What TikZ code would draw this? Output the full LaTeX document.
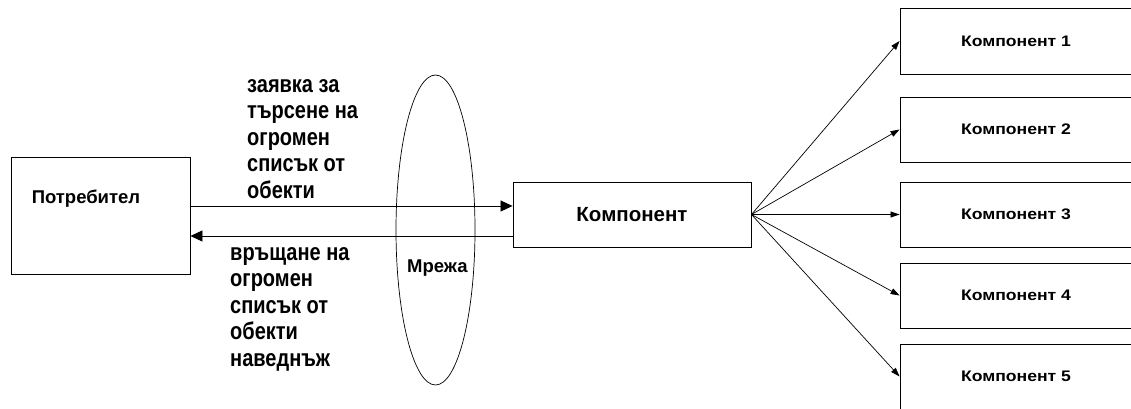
\documentclass[tikz,border=0pt]{standalone}
\usepackage{fontspec}
\setmainfont{Liberation Sans}
\newfontfamily\tallfont[FakeStretch=0.83]{Liberation Sans}
\newfontfamily\widefont[FakeStretch=1.15]{Liberation Sans}
\usetikzlibrary{arrows.meta}
\usetikzlibrary{shapes.geometric}

\begin{document}
\begin{tikzpicture}[x=1pt, y=1pt,
        box/.style={draw, line width=0.9pt, inner sep=0pt},
        lbl/.style={font=\bfseries\fontsize{18.5}{22}\selectfont, inner sep=0pt},
        msg/.style={font=\tallfont\bfseries\fontsize{24.1}{26.5}\selectfont, align=left, inner sep=0pt},
        conn/.style={line width=0.8pt, -{Triangle[length=12pt,width=11pt]}},
        fan/.style={line width=0.7pt, -{Triangle[length=9pt,width=6pt]}}]

        \useasboundingbox (0,0) rectangle (1131,408);
        \clip (0,0) rectangle (1131,408);

        % client and the network between
        \node[box, minimum width=179pt, minimum height=117pt] (user) at (100.5,192.5) {};
        \node[lbl, anchor=west] (userlbl) at ([shift={(21pt,-42pt)}]user.north west) {Потребител};

        \node[draw, ellipse, line width=0.7pt, minimum width=79pt, minimum height=310pt, inner sep=0pt] (net) at (435.5,178) {};
        \node[lbl, anchor=west] (netlbl) at (407,140) {Мрежа};

        \node[box, minimum width=238pt, minimum height=65pt, font=\bfseries\fontsize{20.5}{24}\selectfont] (comp) at (632,193.5) {Компонент\hspace{12pt}};

        \draw[conn] ([yshift=9.5pt]user.east) -- ([yshift=8.5pt]comp.west);
        \draw[conn] ([yshift=-21.5pt]comp.west) -- ([yshift=-20.5pt]user.east);

        \node[msg, anchor=north west] (req) at (247,329) {заявка за\\търсене на\\огромен\\списък от\\обекти};
        \node[msg, anchor=north west] (resp) at (230,161) {връщане на\\огромен\\списък от\\обекти\\наведнъж};

        % the five sub-components
        \foreach \i/\y/\h in {1/367/66, 2/278.5/65, 3/193.5/65, 4/112.5/65, 5/31.5/65} {
            \node[box, minimum width=232pt, minimum height=\h pt, font=\widefont\bfseries\fontsize{15.3}{18}\selectfont] (c\i) at (1016,\y) {Компонент \i};
            \draw[fan] (comp.east) -- (c\i.west);
        }
    \end{tikzpicture}
\end{document}
